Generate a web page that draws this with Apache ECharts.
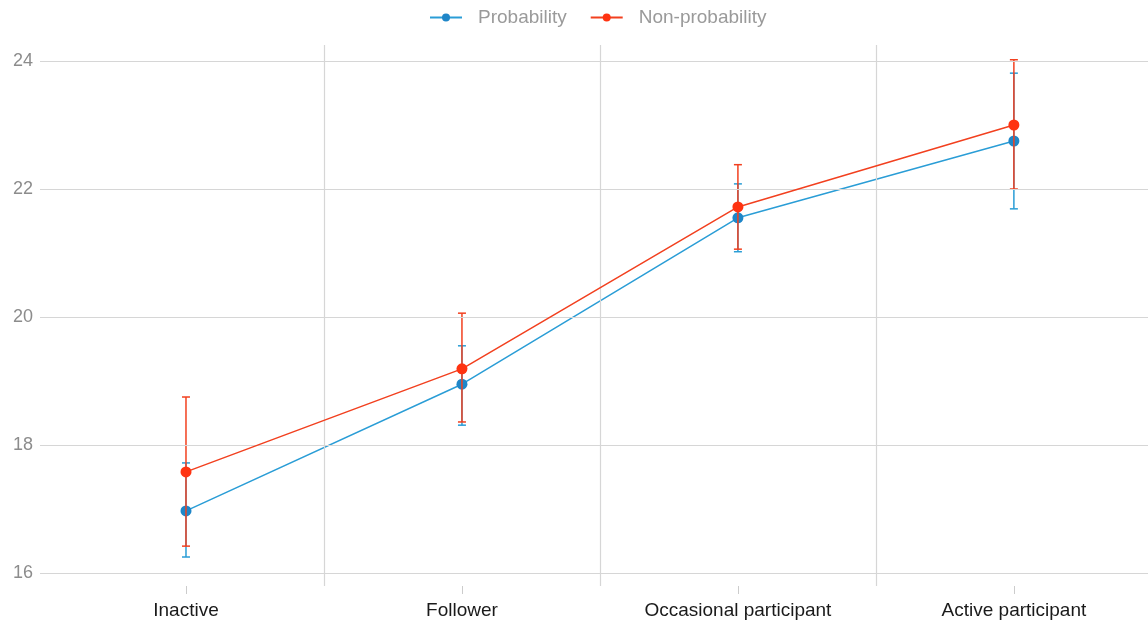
<!DOCTYPE html>
<html>
<head>
<meta charset="utf-8">
<script src="https://cdn.jsdelivr.net/npm/echarts@6/dist/echarts.min.js"></script>
<style>
html,body{margin:0;padding:0;background:#fff;}
#chart{width:1148px;height:627px;}
</style>
</head>
<body>
<div id="chart"></div>
<script>
var categories = ['Inactive', 'Follower', 'Occasional participant', 'Active participant'];
var probMean = [16.97, 18.95, 21.55, 22.75];
var probLow  = [16.25, 18.31, 21.02, 21.69];
var probHigh = [17.72, 19.55, 22.08, 23.81];
var nonMean  = [17.58, 19.19, 21.72, 23.00];
var nonLow   = [16.42, 18.36, 21.06, 22.00];
var nonHigh  = [18.75, 20.06, 22.38, 24.02];
var yTicks = [16, 18, 20, 22, 24];

var BLUE_LINE = '#2a9dd6', BLUE_PT = '#1f86c8';
var RED_LINE = '#f2401f', RED_PT = '#ff3311';
var GRID = '#d6d6d6';
var FONT = '"Liberation Sans", Arial, Helvetica, sans-serif';

var catPos = categories.map(function (c, i) { return i + 1; });
function pts(arr) { return arr.map(function (v, i) { return [catPos[i], v]; }); }
function bars(lo, hi) { return lo.map(function (v, i) { return [catPos[i], v, hi[i]]; }); }

function errRender(color) {
  return function (params, api) {
    var x = api.value(0);
    var a = api.coord([x, api.value(1)]);
    var b = api.coord([x, api.value(2)]);
    var w = 4;
    var st = { stroke: color, lineWidth: 1.5 };
    return {
      type: 'group',
      children: [
        { type: 'line', shape: { x1: a[0], y1: a[1], x2: b[0], y2: b[1] }, style: st },
        { type: 'line', shape: { x1: a[0] - w, y1: a[1], x2: a[0] + w, y2: a[1] }, style: st },
        { type: 'line', shape: { x1: b[0] - w, y1: b[1], x2: b[0] + w, y2: b[1] }, style: st }
      ]
    };
  };
}

var vLines = catPos.slice(1).map(function (p) { return { xAxis: p - 0.5 }; });
var hLines = yTicks.map(function (t) { return { yAxis: t }; });

var chart = echarts.init(document.getElementById('chart'));
chart.setOption({
  animation: false,
  textStyle: { fontFamily: FONT },
  legend: {
    top: 3,
    left: 424,
    itemWidth: 32,
    itemHeight: 10,
    itemGap: 23,
    textStyle: { color: '#9a9a9a', fontSize: 19, fontFamily: FONT, padding: [0, 0, 0, 11] },
    data: ['Probability', 'Non-probability']
  },
  grid: { left: 40, right: 0, top: 45, bottom: 41 },
  xAxis: {
    type: 'value',
    min: 0.471,
    max: 4.486,
    axisLine: { show: false },
    splitLine: { show: false },
    axisTick: { show: true, customValues: catPos, length: 8, lineStyle: { color: '#cccccc' } },
    axisLabel: {
      customValues: catPos,
      margin: 15,
      color: '#1a1a1a',
      fontSize: 19,
      fontFamily: FONT,
      formatter: function (v) { return categories[Math.round(v) - 1] || ''; }
    }
  },
  yAxis: {
    type: 'value',
    min: 15.797,
    max: 24.25,
    axisLine: { show: false },
    axisTick: { show: false },
    splitLine: { show: false },
    axisLabel: { customValues: yTicks, color: '#8c8c8c', fontSize: 18, margin: 7, fontFamily: FONT }
  },
  series: [
    {
      name: '_grid', type: 'line', data: [], z: 0, silent: true,
      markLine: {
        silent: true, symbol: 'none', animation: false,
        label: { show: false },
        lineStyle: { color: GRID, width: 1.2, type: 'solid' },
        data: vLines.concat(hLines)
      }
    },
    {
      name: 'ProbErr', type: 'custom', z: 2,
      renderItem: errRender(BLUE_LINE),
      data: bars(probLow, probHigh)
    },
    {
      name: 'Probability', type: 'line', z: 3,
      data: pts(probMean),
      symbol: 'circle', symbolSize: 11,
      lineStyle: { color: BLUE_LINE, width: 1.5 },
      itemStyle: { color: BLUE_PT }
    },
    {
      name: 'NonErr', type: 'custom', z: 4,
      renderItem: errRender(RED_LINE),
      data: bars(nonLow, nonHigh)
    },
    {
      name: 'Non-probability', type: 'line', z: 5,
      data: pts(nonMean),
      symbol: 'circle', symbolSize: 11,
      lineStyle: { color: RED_LINE, width: 1.5 },
      itemStyle: { color: RED_PT }
    }
  ]
});
</script>
</body>
</html>
